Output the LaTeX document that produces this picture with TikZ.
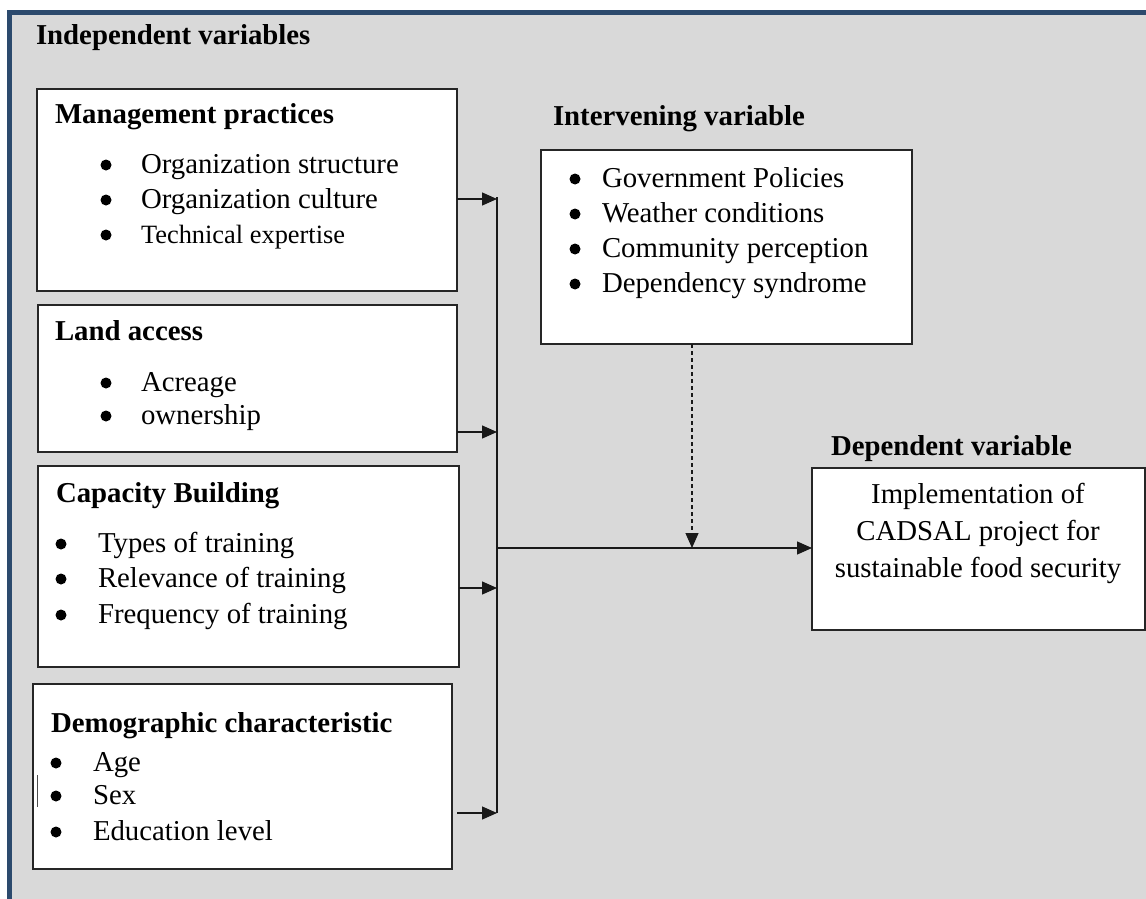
\documentclass[tikz,border=0pt]{standalone}
\usepackage{fontspec}
\setmainfont{Liberation Serif}
\usetikzlibrary{arrows.meta}
\definecolor{framebg}{HTML}{D9D9D9}
\definecolor{frameblue}{HTML}{2C4A6D}
\begin{document}
\begin{tikzpicture}[x=1pt,y=-1pt,
  box/.style={draw=black!85, line width=1.3pt, fill=white, inner sep=0pt, outer sep=0pt, anchor=north west},
  txt/.style={inner sep=0pt, outer sep=0pt, anchor=base west, font=\fontsize{28.8}{34}\selectfont},
  ttl/.style={txt, font=\fontsize{28.8}{34}\selectfont\bfseries},
  smalltxt/.style={txt, font=\fontsize{26.4}{32}\selectfont},
  ctxt/.style={txt, anchor=base},
  dot/.style={circle, fill=black, inner sep=0pt, minimum size=11pt},
  conn/.style={line width=1.3pt, black!90},
  arr/.style={conn, -{Triangle[length=15pt,width=13pt]}},
]
% page and frame
\useasboundingbox (0,0) rectangle (1146,899);
\fill[white] (0,0) rectangle (1146,899);
\fill[framebg] (9.5,12.5) rectangle (1146,899);
\draw[frameblue, line width=5pt] (9.5,899) -- (9.5,12.5) -- (1146,12.5);

\node[ttl] (tindep) at (36,45) {Independent variables};

% Management practices
\node[box, minimum width=420pt, minimum height=202pt] (mgmt) at (37,89) {};
\node[ttl] (tmgmt) at (55,123) {Management practices};
\node[dot] (m1d) at (106,165) {}; \node[txt] (m1) at (141,173) {Organization structure};
\node[dot] (m2d) at (106,200) {}; \node[txt] (m2) at (141,208) {Organization culture};
\node[dot] (m3d) at (106,235) {}; \node[smalltxt] (m3) at (141,243) {Technical expertise};

% Land access
\node[box, minimum width=419pt, minimum height=147pt] (land) at (38,305) {};
\node[ttl] (tland) at (55,340) {Land access};
\node[dot] (l1d) at (106,383) {}; \node[txt] (l1) at (141,391) {Acreage};
\node[dot] (l2d) at (106,416) {}; \node[txt] (l2) at (141,424) {ownership};

% Capacity Building
\node[box, minimum width=421pt, minimum height=201pt] (cap) at (38,466) {};
\node[ttl] (tcap) at (56,502) {Capacity Building};
\node[dot] (c1d) at (61,544) {}; \node[txt] (c1) at (98,552) {Types of training};
\node[dot] (c2d) at (61,579) {}; \node[txt] (c2) at (98,587) {Relevance of training};
\node[dot] (c3d) at (61,615) {}; \node[txt] (c3) at (98,623) {Frequency of training};

% Demographic characteristic
\node[box, minimum width=419pt, minimum height=185pt] (demo) at (33,684) {};
\node[ttl] (tdemo) at (51,732) {Demographic characteristic};
\node[dot] (d1d) at (56,763) {}; \node[txt] (d1) at (93,771) {Age};
\node[dot] (d2d) at (56,796) {}; \node[txt] (d2) at (93,804) {Sex};
\node[dot] (d3d) at (56,832) {}; \node[txt] (d3) at (93,840) {Education level};
\draw[black!70, line width=1pt] (37,775) -- (37,807);

% Intervening variable
\node[ttl] (tinter) at (553,125) {Intervening variable};
\node[box, minimum width=371pt, minimum height=194pt] (inter) at (541,150) {};
\node[dot] (i1d) at (575,179) {}; \node[txt] (i1) at (602,187) {Government Policies};
\node[dot] (i2d) at (575,214) {}; \node[txt] (i2) at (602,222) {Weather conditions};
\node[dot] (i3d) at (575,249) {}; \node[txt] (i3) at (602,257) {Community perception};
\node[dot] (i4d) at (575,284) {}; \node[txt] (i4) at (602,292) {Dependency syndrome};

% Dependent variable
\node[ttl] (tdep) at (831,455) {Dependent variable};
\node[box, minimum width=333pt, minimum height=162pt] (dep) at (812,468) {};
\node[ctxt] (dl1) at (978,503) {Implementation of};
\node[ctxt] (dl2) at (978,540) {CADSAL project for};
\node[ctxt] (dl3) at (978,577) {sustainable food security};

% connectors
\coordinate (bt) at (497,197);
\coordinate (b1) at (497,199);
\coordinate (b2) at (497,432);
\coordinate (b3) at (497,588);
\coordinate (b4) at (497,813);
\coordinate (bm) at (497,548);
\coordinate (d0) at (457,813);
\coordinate (dm) at (692,548);

\draw[conn] (bt) -- (b4);
\draw[arr] (mgmt.east |- b1) -- (b1);
\draw[arr] (land.east |- b2) -- (b2);
\draw[arr] (cap.east |- b3) -- (b3);
\draw[arr] (d0) -- (b4);
\draw[arr] (bm) -- (dep.west |- bm);
\draw[arr, dash pattern=on 4pt off 3pt] (inter.south -| dm) -- (dm);
\end{tikzpicture}
\end{document}
